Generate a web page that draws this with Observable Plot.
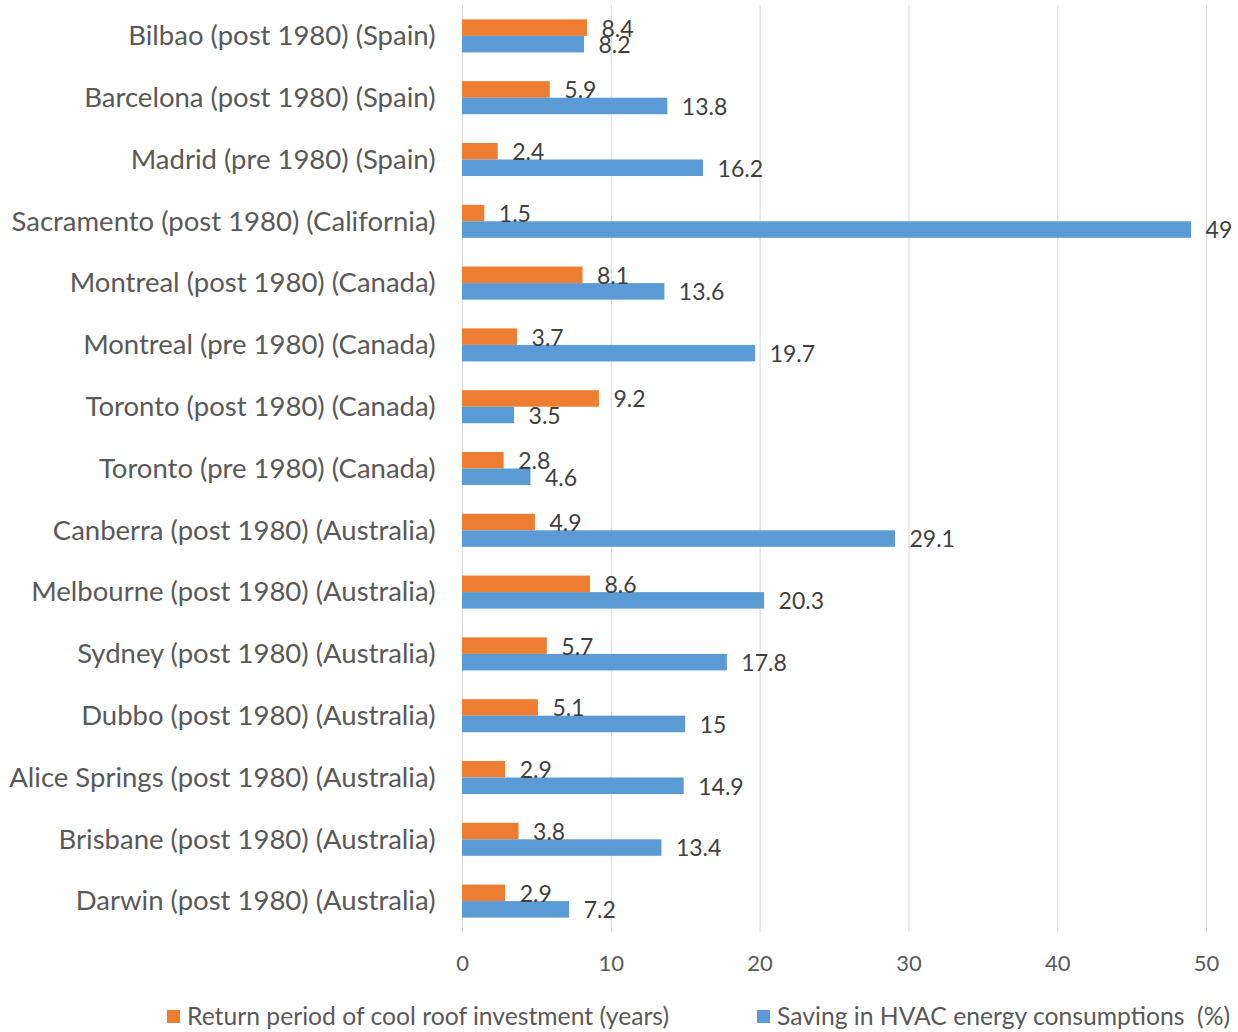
<!DOCTYPE html>
<html>
<head>
<meta charset="utf-8">
<script src="https://cdn.jsdelivr.net/npm/d3@7"></script>
<script src="https://cdn.jsdelivr.net/npm/@observablehq/plot@0.6"></script>
<style>
  body { margin: 0; background: #fff; font-family: Lato, "Open Sans", sans-serif; }
  #legend { position: relative; width: 1238px; height: 42px; color: #595959; font-size: 24.7px; }
  #legend .item { position: absolute; top: 12px; line-height: 28px; white-space: pre; display: flex; align-items: center; }
  #legend .swatch { width: 13px; height: 13px; margin-right: 7px; }
</style>
</head>
<body>
<div id="chart"></div>
<div id="legend"></div>
<script>
// Cities (with building age and country), top to bottom
const cities = [
  "Bilbao (post 1980) (Spain)",
  "Barcelona (post 1980) (Spain)",
  "Madrid (pre 1980) (Spain)",
  "Sacramento (post 1980) (California)",
  "Montreal (post 1980) (Canada)",
  "Montreal (pre 1980) (Canada)",
  "Toronto (post 1980) (Canada)",
  "Toronto (pre 1980) (Canada)",
  "Canberra (post 1980) (Australia)",
  "Melbourne (post 1980) (Australia)",
  "Sydney (post 1980) (Australia)",
  "Dubbo (post 1980) (Australia)",
  "Alice Springs (post 1980) (Australia)",
  "Brisbane (post 1980) (Australia)",
  "Darwin (post 1980) (Australia)"
];

// Return period of the cool roof investment, in years
const returnPeriod = [8.4, 5.9, 2.4, 1.5, 8.1, 3.7, 9.2, 2.8, 4.9, 8.6, 5.7, 5.1, 2.9, 3.8, 2.9];

// Saving in HVAC energy consumption, in percent
const hvacSaving = [8.2, 13.8, 16.2, 49, 13.6, 19.7, 3.5, 4.6, 29.1, 20.3, 17.8, 15, 14.9, 13.4, 7.2];

const seriesNames = [
  "Return period of cool roof investment (years)",
  "Saving in HVAC energy consumptions  (%)"
];
const seriesColors = ["#ED7D31", "#5B9BD5"];
const xTicks = [0, 10, 20, 30, 40, 50];

const rows = cities.flatMap((city, i) => [
  {city, series: seriesNames[0], value: returnPeriod[i]},
  {city, series: seriesNames[1], value: hvacSaving[i]}
]);

const chart = Plot.plot({
  width: 1238,
  height: 990,
  marginLeft: 462,
  marginRight: 32,
  marginTop: 5,
  marginBottom: 58,
  style: {fontFamily: "Lato, 'Open Sans', sans-serif", fontSize: "22px", color: "#595959", background: "#fff"},
  fy: {domain: cities, padding: 0, round: false, label: null, axis: "left", tickSize: 0, tickPadding: 27},
  y: {domain: seriesNames, paddingInner: 0, paddingOuter: 0.87, round: false, axis: null},
  x: {domain: [0, 50], ticks: xTicks, tickSize: 0, tickPadding: 23, label: null},
  color: {domain: seriesNames, range: seriesColors},
  marks: [
    Plot.ruleX(xTicks, {stroke: "#d9d9d9", strokeWidth: 1}),
    Plot.barX(rows, {fy: "city", y: "series", x: "value", fill: "series"}),
    Plot.text(rows, {
      fy: "city", y: "series", x: "value",
      text: d => String(d.value),
      textAnchor: "start", dx: 14, dy: 1,
      fill: "#404040", fontSize: 23
    })
  ]
});

document.getElementById("chart").appendChild(chart);

// Larger category labels on the left
d3.select(chart).selectAll('g[aria-label^="fy-axis"] text')
  .attr("font-size", 27.5)
  .style("font-size", "27.5px");

// Legend below the chart
const legend = d3.select("#legend");
const legendLeft = [167, 757];
seriesNames.forEach((name, i) => {
  const item = legend.append("div").attr("class", "item").style("left", legendLeft[i] + "px");
  item.append("div").attr("class", "swatch").style("background", seriesColors[i]);
  item.append("span").text(name);
});
</script>
</body>
</html>
